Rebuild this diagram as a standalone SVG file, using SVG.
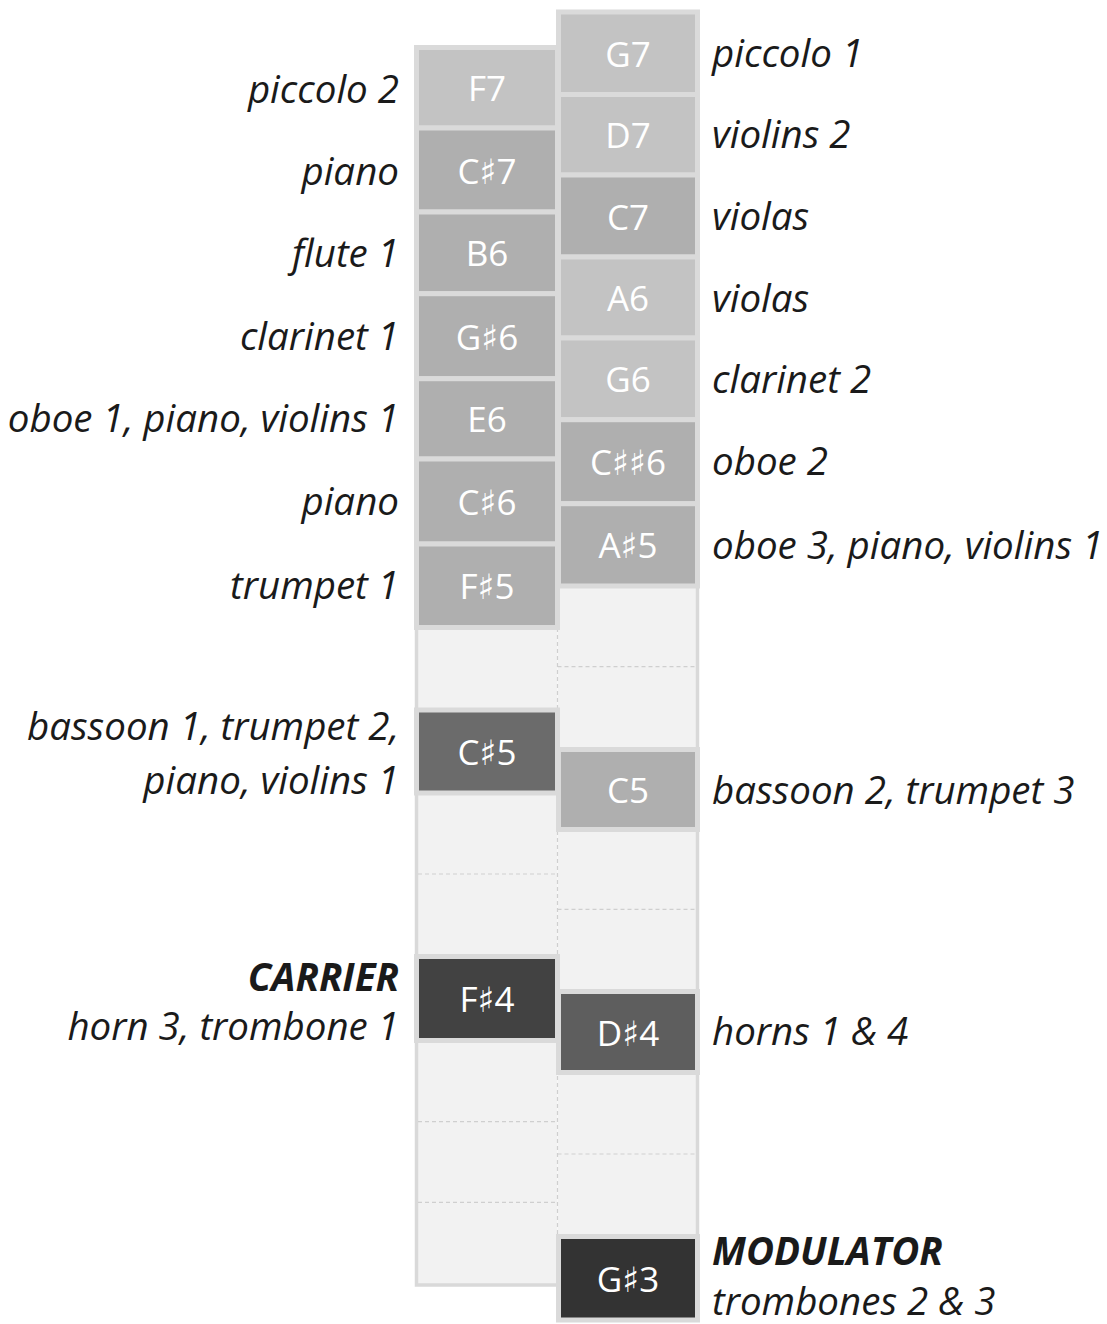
<svg xmlns="http://www.w3.org/2000/svg" width="1107" height="1324" viewBox="0 0 1107 1324">
<style>
.bg{fill:#f2f2f2;stroke:none}
.frame{fill:none;stroke:#d9d9d9;stroke-width:3.5}
.dash{fill:none;stroke:#cfcfcf;stroke-width:1.2;stroke-dasharray:4 3}
.cell{stroke:#dadada;stroke-width:5}
.light{fill:#c3c3c3}
.med{fill:#afafaf}
.note{font-family:"Open Sans","DejaVu Sans",sans-serif;font-size:35px;fill:#ffffff;text-anchor:middle}
.lab{font-family:"Open Sans","DejaVu Sans",sans-serif;font-size:38.5px;font-style:italic;fill:#1a1a1a}
.l{text-anchor:end}
.b{font-weight:bold}
</style>
<g id="columns">
<rect class="bg" x="416.5" y="47.5" width="141" height="1237.5"/>
<rect class="bg" x="558" y="12" width="140" height="1308"/>
<path class="frame" d="M558,47.5 H416.5 V1285 H558"/>
<path class="frame" d="M697.5,12 V1320"/>
</g>
<g id="connectors">
<path class="dash" d="M557.5,586 V1285"/>
<path class="dash" d="M418,874 H557.5 M418,1121.7 H557.5 M418,1202.3 H557.5"/>
<path class="dash" d="M557.5,666.7 H696 M557.5,909.3 H696 M557.5,1154 H696"/>
</g>
<g id="n-F7"><rect class="cell light" x="416.5" y="47.5" width="141" height="80.5"/><text class="note" x="487" y="101">F7</text><text class="lab l" x="399" y="103">piccolo 2</text></g>
<g id="n-Cs7"><rect class="cell med" x="416.5" y="128" width="141" height="84"/><text class="note" x="487" y="183.5">C♯7</text><text class="lab l" x="399" y="185">piano</text></g>
<g id="n-B6"><rect class="cell med" x="416.5" y="212" width="141" height="81.7"/><text class="note" x="487" y="266">B6</text><text class="lab l" x="399" y="267">flute 1</text></g>
<g id="n-Gs6"><rect class="cell med" x="416.5" y="293.7" width="141" height="85"/><text class="note" x="487" y="349.5">G♯6</text><text class="lab l" x="399" y="350">clarinet 1</text></g>
<g id="n-E6"><rect class="cell med" x="416.5" y="378.7" width="141" height="80.3"/><text class="note" x="487" y="432">E6</text><text class="lab l" x="399" y="432">oboe 1, piano, violins 1</text></g>
<g id="n-Cs6"><rect class="cell med" x="416.5" y="459" width="141" height="85"/><text class="note" x="487" y="515">C♯6</text><text class="lab l" x="399" y="515">piano</text></g>
<g id="n-Fs5"><rect class="cell med" x="416.5" y="544" width="141" height="83.5"/><text class="note" x="487" y="599">F♯5</text><text class="lab l" x="399" y="599">trumpet 1</text></g>
<g id="n-Cs5"><rect class="cell" x="416.5" y="710" width="141" height="83" fill="#6b6b6b"/><text class="note" x="487" y="765">C♯5</text><text class="lab l" x="399" y="740">bassoon 1, trumpet 2,</text><text class="lab l" x="399" y="794">piano, violins 1</text></g>
<g id="n-Fs4"><rect class="cell" x="416.5" y="956.5" width="141" height="84" fill="#424242"/><text class="note" x="487" y="1012">F♯4</text><text class="lab l b" x="399" y="991">CARRIER</text><text class="lab l" x="399" y="1040">horn 3, trombone 1</text></g>
<g id="n-G7"><rect class="cell light" x="558.5" y="12" width="139" height="82.5"/><text class="note" x="628" y="66.5">G7</text><text class="lab" x="712" y="67">piccolo 1</text></g>
<g id="n-D7"><rect class="cell light" x="558.5" y="94.5" width="139" height="80.5"/><text class="note" x="628" y="148">D7</text><text class="lab" x="712" y="148">violins 2</text></g>
<g id="n-C7"><rect class="cell med" x="558.5" y="175" width="139" height="82"/><text class="note" x="628" y="229.5">C7</text><text class="lab" x="712" y="230">violas</text></g>
<g id="n-A6"><rect class="cell light" x="558.5" y="257" width="139" height="81"/><text class="note" x="628" y="311">A6</text><text class="lab" x="712" y="312">violas</text></g>
<g id="n-G6"><rect class="cell light" x="558.5" y="338" width="139" height="81.7"/><text class="note" x="628" y="392">G6</text><text class="lab" x="712" y="393">clarinet 2</text></g>
<g id="n-Css6"><rect class="cell med" x="558.5" y="419.7" width="139" height="84"/><text class="note" x="628" y="475">C♯♯6</text><text class="lab" x="712" y="475">oboe 2</text></g>
<g id="n-As5"><rect class="cell med" x="558.5" y="503.7" width="139" height="82.3"/><text class="note" x="628" y="558">A♯5</text><text class="lab" x="712" y="559">oboe 3, piano, violins 1</text></g>
<g id="n-C5"><rect class="cell med" x="558.5" y="749.5" width="139" height="80"/><text class="note" x="628" y="803">C5</text><text class="lab" x="712" y="804">bassoon 2, trumpet 3</text></g>
<g id="n-Ds4"><rect class="cell" x="558.5" y="991.5" width="139" height="81" fill="#5e5e5e"/><text class="note" x="628" y="1045.5">D♯4</text><text class="lab" x="712" y="1045">horns 1 &amp; 4</text></g>
<g id="n-Gs3"><rect class="cell" x="558.5" y="1236.5" width="139" height="83.5" fill="#333333"/><text class="note" x="628" y="1292">G♯3</text><text class="lab b" x="712" y="1265">MODULATOR</text><text class="lab" x="712" y="1315">trombones 2 &amp; 3</text></g>
</svg>
